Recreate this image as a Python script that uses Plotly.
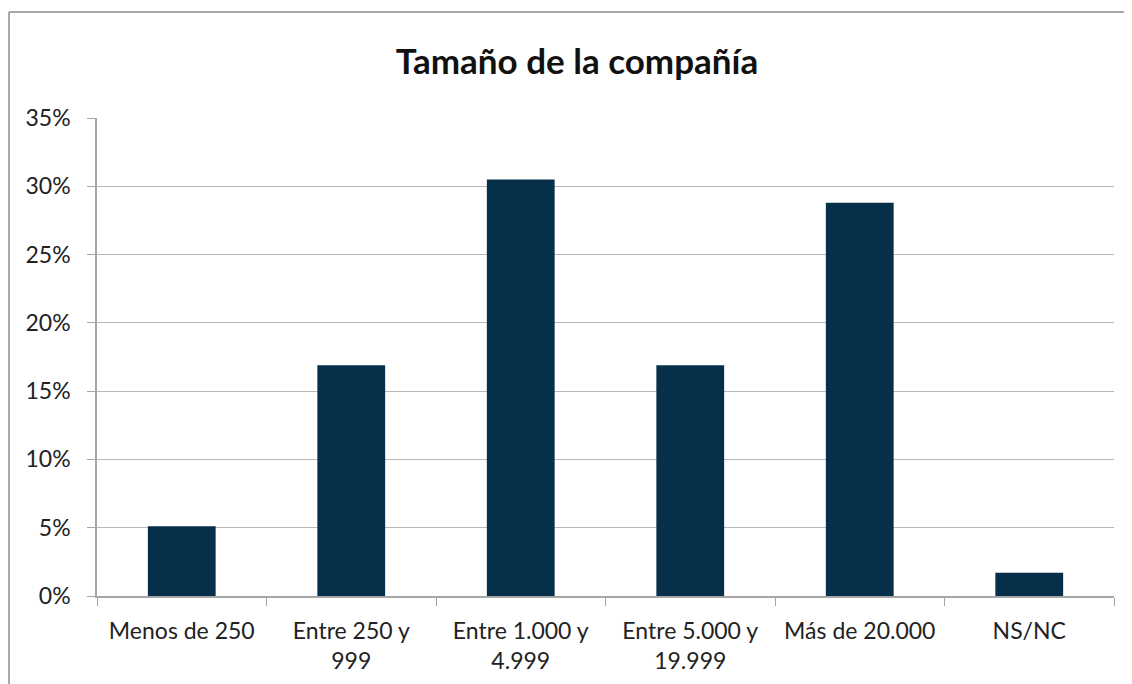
import plotly.graph_objects as go

categorias = ["Menos de 250", "Entre 250 y<br>999", "Entre 1.000 y<br>4.999",
              "Entre 5.000 y<br>19.999", "Más de 20.000", "NS/NC"]
valores = [0.051, 0.169, 0.305, 0.169, 0.288, 0.017]
ticks_y = [0, 0.05, 0.10, 0.15, 0.20, 0.25, 0.30, 0.35]
ticks_y_txt = ["0%", "5%", "10%", "15%", "20%", "25%", "30%", "35%"]

fig = go.Figure()
fig.add_trace(go.Bar(x=categorias, y=valores, marker_color="#06304A",
                     marker_line_width=0, width=0.4))

# la página añade 8px de margen al body: se compensa en los márgenes
fig.update_layout(
    width=1132, height=684,
    margin=dict(l=89, r=26, t=110, b=96),
    paper_bgcolor="white", plot_bgcolor="white",
    font=dict(family="Lato, sans-serif", size=23, color="#222222"),
    title=dict(text="<b>Tamaño de la compañía</b>", x=0.472, xref="paper",
               xanchor="center", y=0.921, yanchor="middle",
               font=dict(size=35, color="#111111")),
    showlegend=False,
    bargap=0.6,
)
fig.update_xaxes(showline=True, linecolor="#a6a6a6", linewidth=1.5,
                 ticks="outside", tickson="boundaries", ticklen=8,
                 tickcolor="#a6a6a6", showgrid=False, ticklabelstandoff=14)
fig.update_yaxes(range=[0, 0.35], tickvals=ticks_y, ticktext=ticks_y_txt,
                 showline=True, linecolor="#a6a6a6", linewidth=1.5,
                 ticks="outside", ticklen=8, tickcolor="#a6a6a6",
                 showgrid=True, gridcolor="#b8b8b8", gridwidth=1.2,
                 zeroline=False, ticklabelstandoff=12)

# marco exterior del gráfico
fig.add_shape(type="line", xref="paper", yref="paper",
              x0=-0.0865, x1=1.1, y0=1.222, y1=1.222,
              line=dict(color="#8c8c8c", width=1.5))
fig.add_shape(type="line", xref="paper", yref="paper",
              x0=-0.0865, x1=-0.0865, y0=-0.3, y1=1.222,
              line=dict(color="#8c8c8c", width=1.5))

fig.write_html("out.html")
